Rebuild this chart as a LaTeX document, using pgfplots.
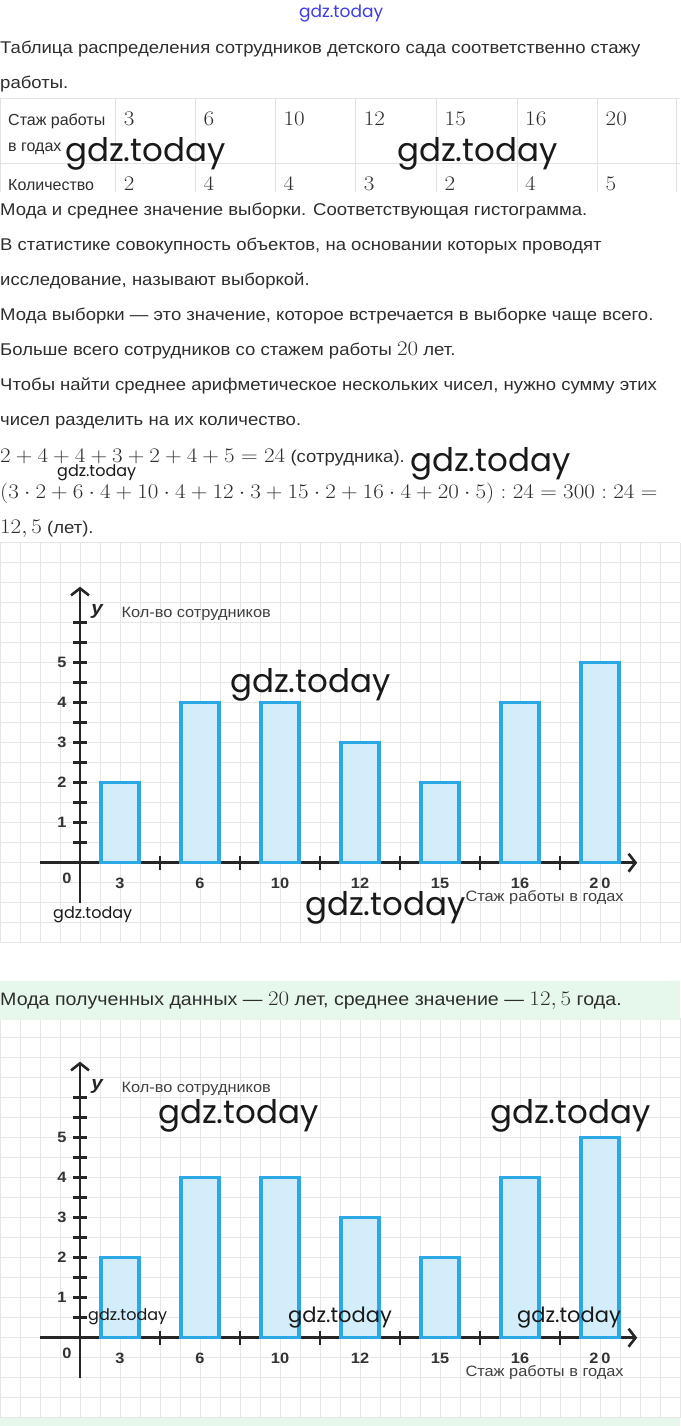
\documentclass[border=0pt]{standalone}
\usepackage{graphicx}
\usepackage{pgfplots}
\pgfplotsset{compat=1.18}
\usepackage{fontspec}
\setmainfont{Liberation Sans}[FakeStretch=1.09]
\newfontfamily\plain{Liberation Sans}
\newfontfamily\wm{Poppins}
\usetikzlibrary{arrows.meta}

\definecolor{txt}{HTML}{2E2E2E}
\definecolor{barline}{HTML}{2AA9E4}
\definecolor{barfill}{HTML}{D3EDFA}
\definecolor{gridc}{HTML}{E6E6E6}
\definecolor{band}{HTML}{E6F8EC}
\definecolor{tab}{HTML}{E2E2E2}
\definecolor{wmblue}{HTML}{3C3CE6}

\newcommand\tx{\fontsize{17}{20}\selectfont}
% math is set a little wider, as in the scan
\newcommand\mth[2][21]{\scalebox{1.11}[1]{\fontsize{#1}{24}\selectfont$#2$}}
\newcommand\wmk[4][black!90]{\node[anchor=base west,inner sep=0,text=#1,font=\wm\fontsize{#4}{#4}\selectfont] at (#2,#3) {gdz.today};}

% histogram: stazh 3,6,10,12,15,16,20 at x = 1,3,...,13
\newcommand\chart[1]{%
\begin{axis}[at={(0pt,#1)}, anchor=south west, scale only axis,
  width=680pt, height=400pt,
  xmin=-2, xmax=15, ymin=-2, ymax=8,
  axis lines=middle, axis line style={draw=none},
  clip=false,
  xtick={2,4,...,12}, xticklabels={},
  extra x ticks={1,3,5,7,9,11,13},
  extra x tick labels={3,6,10,12,15,16,2\hspace{3pt}0},
  extra x tick style={major tick length=0pt, grid=none, tick style={draw=none}},
  xticklabel style={yshift=-12pt},
  yticklabel style={xshift=-3pt},
  ytick={0.5,1,...,6}, yticklabels={,1,,2,,3,,4,,5,,},
  minor xtick={-2,-1.5,...,15}, minor ytick={-2,-1.5,...,8},
  grid=minor, minor grid style={draw=gridc, line width=0.8pt},
  minor tick length=0pt, major tick length=14pt, tick align=center,
  every major tick/.append style={line width=2.6pt, draw=black!85},
  ticklabel style={font=\bfseries\fontsize{15}{15}\selectfont, text=black!80},
]
\draw[line width=2.6pt, black!85, -{Straight Barb[length=7pt,width=18pt]}] (axis cs:-1,0) -- (axis cs:13.93,0);
\draw[line width=2.6pt, black!85, -{Straight Barb[length=7pt,width=18pt]}] (axis cs:0,-1) -- (axis cs:0,6.9);
\addplot[ybar, bar width=0.95, draw=barline, line width=3.5pt, fill=barfill]
  coordinates {(1,2) (3,4) (5,4) (7,3) (9,2) (11,4) (13,5)};
\node[font=\bfseries\itshape\fontsize{19}{19}\selectfont, text=black!85] at (axis cs:0.43,6.27) {y};
\node[anchor=west, font=\fontsize{15}{15}\selectfont, text=black!75] at (axis cs:0.95,6.22) {Кол-во сотрудников};
\node[anchor=west, font=\fontsize{15}{15}\selectfont, text=black!75] at (axis cs:9.55,-0.88) {Стаж работы в годах};
\node[font=\bfseries\fontsize{15}{15}\selectfont, text=black!80] at (axis cs:-0.33,-0.38) {0};
\end{axis}}

\begin{document}
\begin{tikzpicture}
\begin{scope}[x=1pt,y=-1pt]
\fill[white] (0,0) rectangle (680,1426);
\end{scope}
\chart{-942.7pt}
\chart{-1417.7pt}
\begin{scope}[x=1pt,y=-1pt]
\fill[band] (0,981) rectangle (680,1020);
\fill[band] (0,1418) rectangle (680,1426);

\wmk[wmblue]{299}{18}{17}

\begin{scope}[every node/.style={anchor=base west,inner sep=0,text=txt,font=\tx}]
\node at (0,54) {Таблица распределения сотрудников детского сада соответственно стажу};
\node at (0,88.5) {работы.};
\node at (0,215.5) {Мода и среднее значение выборки. Соответствующая гистограмма.};
\node at (0,250.5) {В статистике совокупность объектов, на основании которых проводят};
\node at (0,285.5) {исследование, называют выборкой.};
\node at (0,320.5) {Мода выборки — это значение, которое встречается в выборке чаще всего.};
\node at (0,355.5) {Больше всего сотрудников со стажем работы \mth{20} лет.};
\node at (0,390.5) {Чтобы найти среднее арифметическое нескольких чисел, нужно сумму этих};
\node at (0,425.5) {чисел разделить на их количество.};
\node at (0,462) {\mth{2+4+4+3+2+4+5=24} (сотрудника).};
\node at (0,498) {\mth{(3\cdot2+6\cdot4+10\cdot4+12\cdot3+15\cdot2+16\cdot4+20\cdot5):24=300:24=}};
\node at (0,533) {\mth{12,5} (лет).};
\node[font=\fontsize{18}{20}\selectfont] at (0,1005) {Мода полученных данных — \mth[22.3]{20} лет, среднее значение — \mth[22.3]{12,5} года.};
\end{scope}

% table
\draw[tab, line width=0.9pt] (0,98.5) -- (680,98.5) (0,163) -- (680,163);
\foreach \x in {0.5,115.7,195.5,275.5,355.7,436.5,517,597.5,676.5}
  \draw[tab, line width=0.9pt] (\x,98.5) -- (\x,192);
\begin{scope}[every node/.style={anchor=base west,inner sep=0,text=txt,font=\plain\fontsize{16}{18}\selectfont}]
\node at (8,125) {Стаж работы};
\node at (8,151.5) {в годах};
\node at (8,190) {Количество};
\end{scope}
\foreach \x/\a/\b in {123.7/3/2, 203.5/6/4, 283.5/10/4, 363.7/12/3, 444.5/15/2, 525/16/4, 605.5/20/5} {
  \node[anchor=base west,inner sep=0,text=txt] at (\x,125) {\mth[20]{\a}};
  \node[anchor=base west,inner sep=0,text=txt] at (\x,190) {\mth[20]{\b}};
}

% watermarks
\wmk{65}{161.7}{32.5}
\wmk{397}{161.7}{32.5}
\wmk{410}{471}{32.5}
\wmk{57}{476}{16}
\wmk{230}{692}{32.5}
\wmk{305}{915}{32.5}
\wmk{53}{918}{16}
\wmk{158}{1123}{32.5}
\wmk{490}{1123}{32.5}
\wmk{88}{1320}{16}
\wmk{288}{1322}{21}
\wmk{517}{1322}{21}
\end{scope}
\pgfresetboundingbox
\path (0,0) rectangle (680pt,-1426pt);
\end{tikzpicture}
\end{document}
